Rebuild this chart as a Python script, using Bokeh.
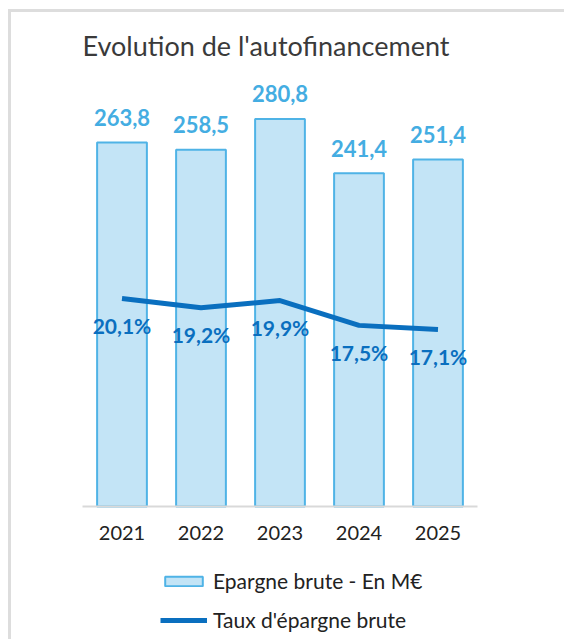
from bokeh.plotting import figure
from bokeh.models import Range1d, Legend, LegendItem, ColumnDataSource, Label
from bokeh.core.properties import value
from bokeh.embed import file_html
from bokeh.resources import INLINE

# ---- data ----
years = ["2021", "2022", "2023", "2024", "2025"]
epargne = [263.8, 258.5, 280.8, 241.4, 251.4]          # M€
taux = [20.1, 19.2, 19.9, 17.5, 17.1]                   # %
epargne_labels = ["263,8", "258,5", "280,8", "241,4", "251,4"]
taux_labels = ["20,1%", "19,2%", "19,9%", "17,5%", "17,1%"]
title_text = "Evolution de l'autofinancement"
legend_bar = "Epargne brute - En M€"
legend_line = "Taux d'épargne brute"

FONT = "Lato"
BAR_FILL = "#c3e4f6"
BAR_LINE = "#4fb3e6"
BAR_TEXT = "#44ade2"
LINE_COL = "#0a6fbf"

pos = list(range(len(years)))
zeros = [0] * len(years)
src = ColumnDataSource(dict(pos=pos, years=years, zero=zeros, epargne=epargne, taux=taux,
                            el=epargne_labels, tl=taux_labels))

W, H = 556, 630
p = figure(width=W, height=H,
           x_range=Range1d(-1.3987, 5.6393), y_range=Range1d(-98.55, 357.97),
           output_backend="svg", toolbar_location=None,
           min_border=0, min_border_left=0, min_border_right=0,
           min_border_top=0, min_border_bottom=0,
           styles={"margin-left": "8px", "margin-top": "9px",
                   "border-top": "3px solid #dddddd", "border-left": "3px solid #dddddd"})
p.extra_y_ranges = {"rate": Range1d(-13.14, 47.73)}
p.outline_line_color = None
p.xaxis.visible = False
p.yaxis.visible = False
p.xgrid.visible = False
p.ygrid.visible = False
p.background_fill_color = "white"
p.border_fill_color = "white"

bars = p.vbar(x="pos", top="epargne", width=0.63, source=src,
              fill_color=BAR_FILL, line_color=BAR_LINE, line_width=2)
line = p.line(x="pos", y="taux", source=src, y_range_name="rate",
              line_color=LINE_COL, line_width=5)

# baseline (category axis line)
p.segment(x0=[pos[0] - 0.5], y0=[0], x1=[pos[-1] + 0.5], y1=[0],
          line_color="#d9d9d9", line_width=2)

# category labels
p.text(x="pos", y="zero", text="years", source=src, text_align="center",
       text_baseline="alphabetic", y_offset=26, text_font=value(FONT),
       text_font_size="20px", text_color="#222222")

p.text(x="pos", y="epargne", text="el", source=src, text_align="center",
       text_baseline="alphabetic", y_offset=-25, text_font=value(FONT),
       text_font_style="bold", text_font_size="22px", text_color=BAR_TEXT)
p.text(x="pos", y="taux", text="tl", source=src, y_range_name="rate",
       text_align="center", text_baseline="alphabetic", y_offset=27,
       text_font=value(FONT), text_font_style="bold", text_font_size="21px",
       text_color=LINE_COL)

p.add_layout(Label(x=71, y=H - 33, x_units="screen", y_units="screen", text=title_text,
                   text_align="left", text_baseline="alphabetic",
                   text_font=FONT, text_font_size="27px", text_color="#3a3a3a"))

legend = Legend(items=[LegendItem(label=legend_bar, renderers=[bars]),
                       LegendItem(label=legend_line, renderers=[line])],
                location=(149, 10), orientation="vertical",
                glyph_width=47, glyph_height=12, label_height=24, spacing=14,
                label_standoff=6, padding=0, margin=0,
                border_line_color=None, background_fill_alpha=0,
                label_text_font=FONT, label_text_font_size="21px",
                label_text_color="#222222")
p.add_layout(legend, "center")

open("out.html", "w").write(file_html(p, INLINE))
